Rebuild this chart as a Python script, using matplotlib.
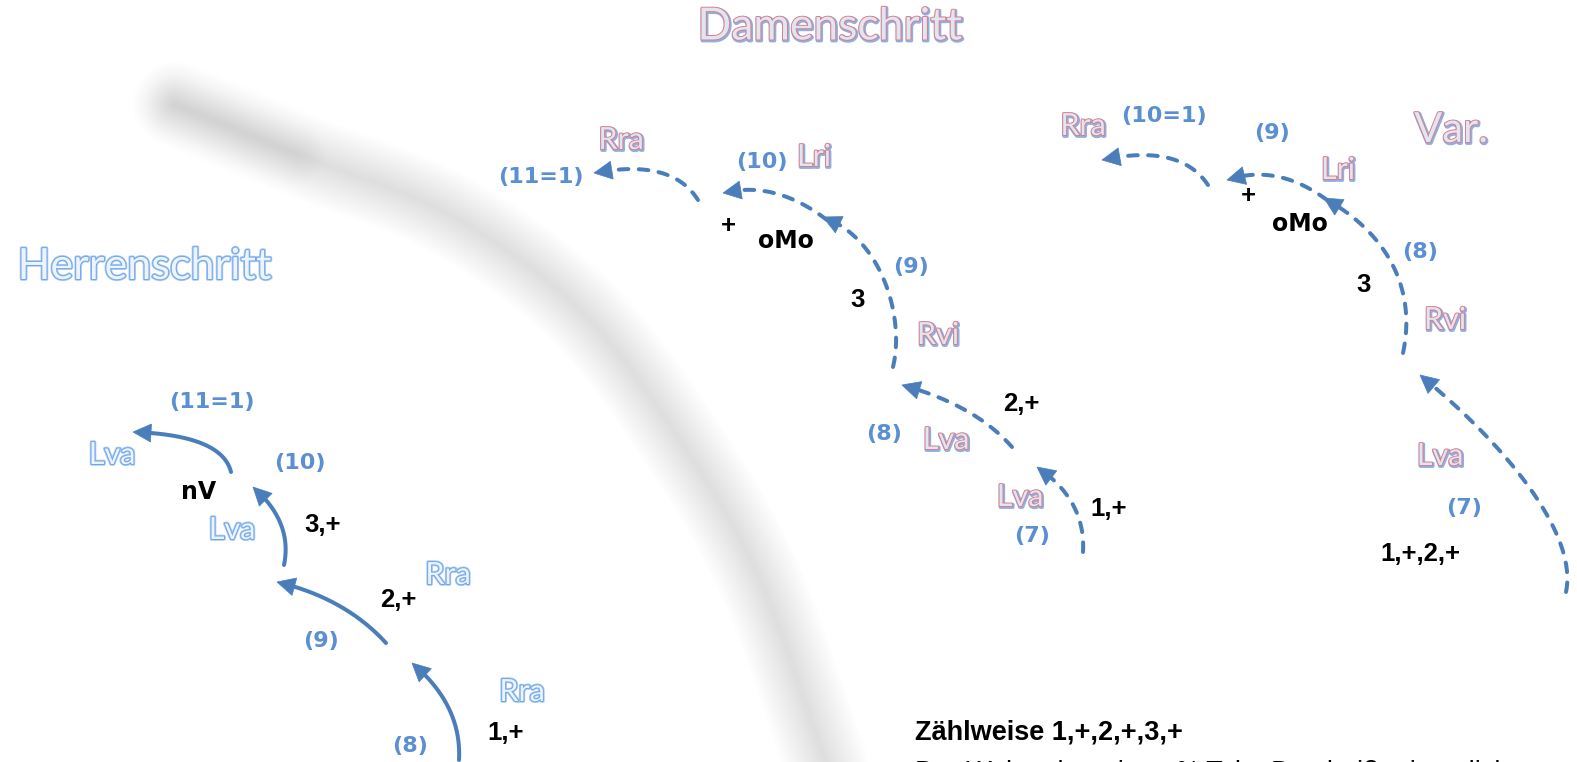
import numpy as np
import matplotlib
matplotlib.use('Agg')
import matplotlib.pyplot as plt
import matplotlib.patheffects as pe
from matplotlib.patches import Polygon

# ---------------- data ----------------
# step arrows as Bezier control points (tail first, tip last)
herren_steps = [
    [(459, 760), (462, 705), (412, 663)],
    [(386, 643), (345, 598), (277, 582)],
    [(284, 565), (293, 522), (253, 487)],
    [(231, 472), (222, 435), (133, 432)],
]
damen_steps = [
    [(1083, 552), (1086, 500), (1037, 467)],
    [(1012, 447), (975, 405), (902, 385)],
    [(893, 367), (905, 318), (882, 238), (823, 217)],
    [(827, 220), (775, 180), (723, 193)],
    [(698, 200), (672, 158), (594, 173)],
]
var_steps = [
    [(1566, 592), (1578, 535), (1508, 447), (1420, 375)],
    [(1403, 353), (1415, 298), (1396, 238), (1324, 198)],
    [(1327, 200), (1277, 163), (1227, 180)],
    [(1208, 185), (1180, 143), (1102, 160)],
]
shadow_path = [(175, 104), (300, 155), (450, 215), (580, 310), (680, 440),
               (760, 580), (830, 775)]

titles = [("Herrenschritt", 144, 267, "herren", 31),
          ("Damenschritt", 830, 27, "damen", 32),
          ("Var.", 1451, 130, "damen", 30)]

foot_labels = [  # outlined step names
    ("Lva", 112, 455, "herren"), ("Lva", 232, 530, "herren"),
    ("Rra", 448, 575, "herren"), ("Rra", 522, 692, "herren"),
    ("Rra", 621, 140, "damen"), ("Lri", 814, 157, "damen"),
    ("Rvi", 938, 335, "damen"), ("Lva", 946, 440, "damen"),
    ("Lva", 1020, 497, "damen"),
    ("Rra", 1083, 126, "damen"), ("Lri", 1338, 170, "damen"),
    ("Rvi", 1445, 320, "damen"), ("Lva", 1440, 456, "damen"),
]
num_labels = [
    ("(11=1)", 212, 402), ("(10)", 300, 463), ("(9)", 321, 641), ("(8)", 410, 746),
    ("(11=1)", 541, 177), ("(10)", 762, 162), ("(9)", 911, 267), ("(8)", 884, 434),
    ("(7)", 1032, 536),
    ("(10=1)", 1164, 116), ("(9)", 1272, 133), ("(8)", 1420, 252), ("(7)", 1464, 508),
]
count_labels = [
    ("1,+", 506, 733), ("2,+", 398, 600), ("3,+", 323, 525),
    ("1,+", 1109, 509), ("2,+", 1021, 404), ("3", 858, 300), ("+", 728, 226),
    ("1,+,2,+", 1420, 554), ("3", 1364, 285), ("+", 1248, 196),
]
move_labels = [("nV", 199, 492), ("oMo", 786, 241), ("oMo", 1300, 224)]

foot_title = "Zählweise 1,+,2,+,3,+"
foot_text = "Der Walzer hat einen ¾ Takt. Das heißt eigentlich"

# ---------------- drawing ----------------
W, H = 1577, 762
BLUE = '#4a7ebb'
NUMBLUE = '#5b8fd4'
PX = 72 / 100.0  # points per pixel

fig = plt.figure(figsize=(W / 100, H / 100), dpi=100)
ax = fig.add_axes([0, 0, 1, 1])
ax.set_xlim(0, W)
ax.set_ylim(H, 0)
ax.axis('off')


def bezier(ctrl, n=200):
    P = np.array(ctrl, float)
    t = np.linspace(0, 1, n)[:, None]
    if len(P) == 3:
        return (1 - t) ** 2 * P[0] + 2 * (1 - t) * t * P[1] + t ** 2 * P[2]
    return ((1 - t) ** 3 * P[0] + 3 * (1 - t) ** 2 * t * P[1]
            + 3 * (1 - t) * t ** 2 * P[2] + t ** 3 * P[3])


def catmull(pts, n=40):
    P = np.array(pts, float)
    P = np.vstack([2 * P[0] - P[1], P, 2 * P[-1] - P[-2]])
    out = []
    t = np.linspace(0, 1, n, endpoint=False)[:, None]
    for i in range(1, len(P) - 2):
        p0, p1, p2, p3 = P[i - 1], P[i], P[i + 1], P[i + 2]
        seg = 0.5 * ((2 * p1) + (-p0 + p2) * t + (2 * p0 - 5 * p1 + 4 * p2 - p3) * t ** 2
                     + (-p0 + 3 * p1 - 3 * p2 + p3) * t ** 3)
        out.append(seg)
    out.append(P[-2][None, :])
    return np.vstack(out)


def arrow(ctrl, dashed):
    c = bezier(ctrl)
    d = np.r_[0, np.cumsum(np.hypot(*np.diff(c, axis=0).T))]
    L = d[-1]
    hl, hw = 18, 9
    idx = np.searchsorted(d, L - hl * 0.8)
    tip = c[-1]
    u = tip - c[np.searchsorted(d, L - hl)]
    u = u / np.linalg.norm(u)
    nvec = np.array([-u[1], u[0]])
    base = tip - u * hl
    line = c[:idx + 1]
    if dashed:
        ax.plot(line[:, 0], line[:, 1], color=BLUE, lw=4 * PX, ls=(0, (2.4, 2.6)),
                dash_capstyle='round', zorder=3)
    else:
        ax.plot(line[:, 0], line[:, 1], color=BLUE, lw=4 * PX,
                solid_capstyle='round', zorder=3)
    ax.add_patch(Polygon([tip, base + nvec * hw, base - nvec * hw], closed=True,
                         facecolor=BLUE, edgecolor=BLUE, lw=0.5, zorder=3))


# blurred shadow arc (layered translucent strokes imitate the blur)
sc = catmull(shadow_path)
for w in np.linspace(85, 4, 32):
    ax.plot(sc[:, 0], sc[:, 1], color='k', alpha=0.0058, lw=w * PX,
            solid_capstyle='round', zorder=1)
# broader blurred arrow head at the start of the shadow
head = sc[0:40]
for w in np.linspace(60, 8, 12):
    ax.plot(head[:, 0], head[:, 1] + 2, color='k', alpha=0.004, lw=w * PX,
            solid_capstyle='round', zorder=1)

for s in herren_steps:
    arrow(s, dashed=False)
for s in damen_steps + var_steps:
    arrow(s, dashed=True)

FFAM = ['Lato', 'DejaVu Sans']
effects = {
    'herren': dict(color='#eef4fd',
                   path_effects=[pe.Stroke(linewidth=2.6, foreground='#a8cbf4'),
                                 pe.Stroke(linewidth=1.4, foreground='#6fa6ea'),
                                 pe.Normal()]),
    'damen': dict(color='#dfe6f2',
                  path_effects=[pe.Stroke(linewidth=2.6, foreground='#8fb0e0', offset=(0.6, -0.8)),
                                pe.Stroke(linewidth=1.3, foreground='#e07a84'),
                                pe.Normal()]),
}

for txt, x, y, kind, fs in titles:
    ax.text(x, y, txt, ha='center', va='center', fontsize=fs, family=FFAM,
            zorder=4, **effects[kind])

for txt, x, y, kind in foot_labels:
    ax.text(x, y, txt, ha='center', va='center', fontsize=22, family=FFAM,
            zorder=4, **effects[kind])

for txt, x, y in num_labels:
    ax.text(x, y, txt, ha='center', va='center', fontsize=16, family='DejaVu Sans',
            fontweight='bold', color=NUMBLUE, zorder=4)

for txt, x, y in count_labels:
    ax.text(x, y, txt, ha='center', va='center', fontsize=18.5, family='Liberation Sans',
            fontweight='bold', color='black', zorder=4)

for txt, x, y in move_labels:
    ax.text(x, y, txt, ha='center', va='center', fontsize=17, family='DejaVu Sans',
            fontweight='bold', color='black', zorder=4)

ax.text(915, 733, foot_title, ha='left', va='center', fontsize=19.5,
        family='Liberation Sans', fontweight='bold', color='black', zorder=4)
ax.text(915, 773, foot_text, ha='left', va='center', fontsize=19.5,
        family='Liberation Sans', color='black', zorder=4, clip_on=True)

fig.savefig('out.png', dpi=100, facecolor='white')
